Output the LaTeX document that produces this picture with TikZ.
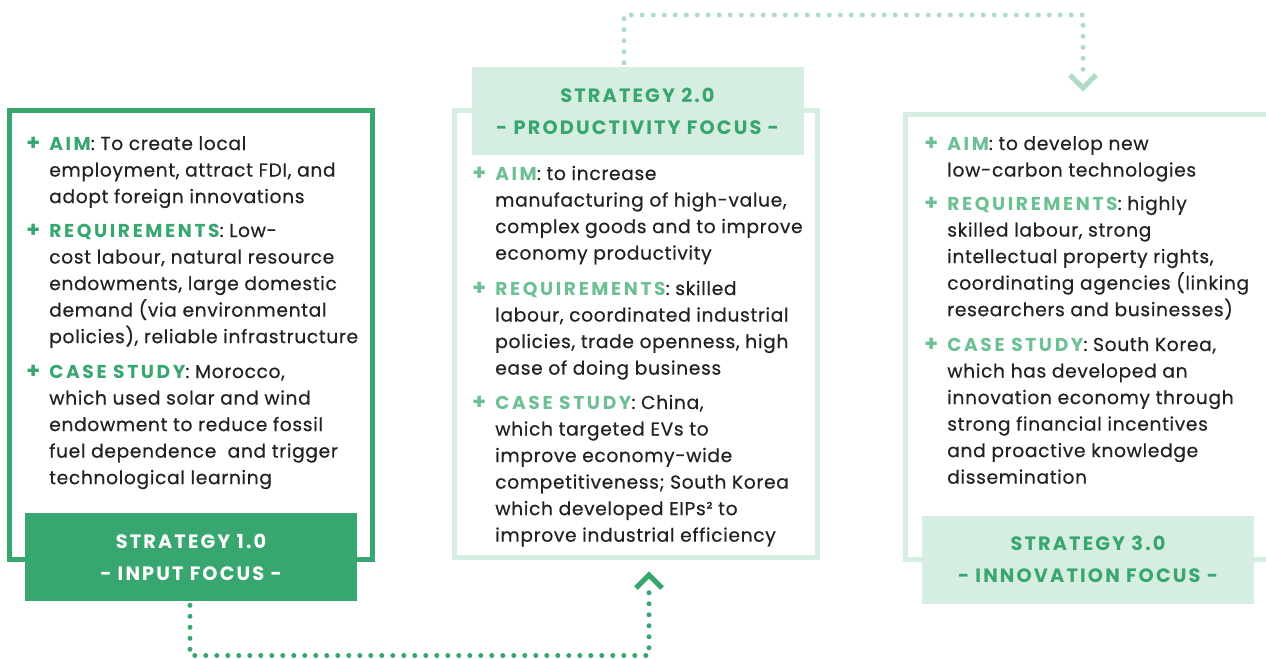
\documentclass[tikz,border=0pt]{standalone}
\usepackage{fontspec}
\setmainfont{Poppins}[UprightFeatures={FakeBold=0.5}]
\usetikzlibrary{calc}
\definecolor{dg}{HTML}{38A66F}
\definecolor{lg}{HTML}{D6EDE1}
\definecolor{mg}{HTML}{6DC094}
\definecolor{dotl}{HTML}{B0DCC4}
\definecolor{ink}{HTML}{222222}
\newcommand\kw[2]{{\color{#1}\bfseries\addfontfeature{LetterSpace=14}#2}}
\newcommand\blk[1]{\vtop{\setlength\baselineskip{19.9pt}\setlength\lineskiplimit{-20pt}#1}}
\tikzset{
  body/.style={anchor=base west, inner sep=0pt, text=ink, font=\fontsize{14}{19.9}\selectfont\addfontfeature{LetterSpace=3.5}},
  plus/.style={anchor=base west, inner sep=0pt, font=\fontsize{16.5}{19.9}\selectfont\bfseries},
  darkframe/.style={draw=dg, line width=3.75pt},
  lightframe/.style={draw=lg, line width=3.75pt},
  labbox/.style={inner sep=0pt, minimum width=249pt, minimum height=66pt, align=center,
     font=\fontsize{14.5}{24}\selectfont\bfseries\addfontfeature{LetterSpace=11}},
  darklab/.style={labbox, fill=dg, text=white},
  lightlab/.style={labbox, fill=lg, text=dg},
  dotline/.style={line width=3.75pt, line cap=round, dash pattern=on 0pt off 8.25pt},
  chev/.style={line width=3.75pt, miter limit=10},
}
\begin{document}
\begin{tikzpicture}[x=0.75pt, y=-0.75pt]
\useasboundingbox (0,0) rectangle (1266,658);
% frames
\draw[darkframe] (9.5,110.5) rectangle (372.5,559.5);
\draw[lightframe] (454.5,110.5) rectangle (817.5,557.5);
\draw[lightframe] (905.5,114.5) rectangle (1290,559.5);
% labels
\node[darklab] (lab1) at (191,557) {STRATEGY 1.0\\- INPUT FOCUS -};
\node[lightlab] (lab2) at (637.5,111) {STRATEGY 2.0\\- PRODUCTIVITY FOCUS -};
\node[lightlab] (lab3) at (1088,559.5) {STRATEGY 3.0\\- INNOVATION FOCUS -};
% box 1 text
\node[plus, text=dg] (p1a) at (26,150) {+};
\node[body] (t1a) at (49,150) {\blk{\hbox{\kw{dg}{AIM}: To create local}\hbox{employment, attract FDI, and}\hbox{adopt foreign innovations}}};
\node[plus, text=dg] (p1b) at (26,237) {+};
\node[body] (t1b) at (49,237) {\blk{\hbox{\kw{dg}{REQUIREMENTS}: Low-}\hbox{cost labour, natural resource}\hbox{endowments, large domestic}\hbox{demand (via environmental}\hbox{policies), reliable infrastructure}}};
\node[plus, text=dg] (p1c) at (26,378) {+};
\node[body] (t1c) at (49,378) {\blk{\hbox{\kw{dg}{CASE STUDY}: Morocco,}\hbox{which used solar and wind}\hbox{endowment to reduce fossil}\hbox{fuel dependence\ \ and trigger}\hbox{technological learning}}};
% box 2 text
\node[plus, text=mg] (p2a) at (472,180) {+};
\node[body] (t2a) at (495,180) {\blk{\hbox{\kw{mg}{AIM}: to increase}\hbox{manufacturing of high-value,}\hbox{complex goods and to improve}\hbox{economy productivity}}};
\node[plus, text=mg] (p2b) at (472,295) {+};
\node[body] (t2b) at (495,295) {\blk{\hbox{\kw{mg}{REQUIREMENTS}: skilled}\hbox{labour, coordinated industrial}\hbox{policies, trade openness, high}\hbox{ease of doing business}}};
\node[plus, text=mg] (p2c) at (472,409) {+};
\node[body] (t2c) at (495,409) {\blk{\hbox{\kw{mg}{CASE STUDY}: China,}\hbox{which targeted EVs to}\hbox{improve economy-wide}\hbox{competitiveness; South Korea}\hbox{which developed EIPs² to}\hbox{improve industrial efficiency}}};
% box 3 text
\node[plus, text=mg] (p3a) at (924,150) {+};
\node[body] (t3a) at (947,150) {\blk{\hbox{\kw{mg}{AIM}: to develop new}\hbox{low-carbon technologies}}};
\node[plus, text=mg] (p3b) at (924,210) {+};
\node[body] (t3b) at (947,210) {\blk{\hbox{\kw{mg}{REQUIREMENTS}: highly}\hbox{skilled labour, strong}\hbox{intellectual property rights,}\hbox{coordinating agencies (linking}\hbox{researchers and businesses)}}};
\node[plus, text=mg] (p3c) at (924,351) {+};
\node[body] (t3c) at (947,351) {\blk{\hbox{\kw{mg}{CASE STUDY}: South Korea,}\hbox{which has developed an}\hbox{innovation economy through}\hbox{strong financial incentives}\hbox{and proactive knowledge}\hbox{dissemination}}};
% connectors
\coordinate (k1) at (649,655.5);
\coordinate (h1) at (649,575);
\draw[dotline, draw=dg] ($(lab1.south)+(-1,4)$) |- (k1) -- ($(h1)+(0,8)$);
\draw[chev, draw=dg] ($(h1)+(-13,13)$) -- (h1) -- ($(h1)+(13,13)$);
\coordinate (k2) at (1083,15);
\coordinate (h2) at (1083,88);
\draw[dotline, draw=dotl] ($(lab2.north)+(-13.5,-4)$) |- (k2) -- ($(h2)+(0,-8)$);
\draw[chev, draw=dotl] ($(h2)+(-13,-13)$) -- (h2) -- ($(h2)+(13,-13)$);
\end{tikzpicture}
\end{document}
